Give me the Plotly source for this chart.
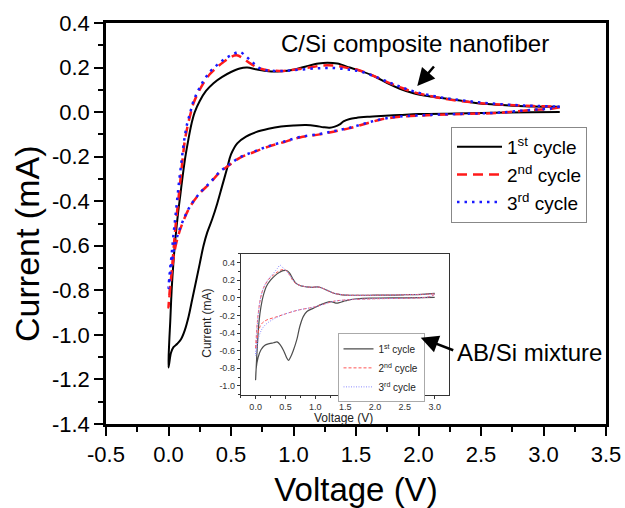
import plotly.graph_objects as go

# ---------------- main plot data (C/Si composite nanofiber) ----------------
c1_v = [3.13, 2.9, 2.6, 2.3, 2.0, 1.85, 1.7, 1.59, 1.5, 1.45, 1.4, 1.37, 1.33, 1.29, 1.24, 1.18,
        1.1, 1.0, 0.9, 0.8, 0.7, 0.62, 0.55, 0.5, 0.47, 0.43, 0.39, 0.35, 0.31, 0.28, 0.25, 0.22,
        0.19, 0.16, 0.13, 0.1, 0.07, 0.04, 0.02, 0.0,
        0.006, 0.014, 0.025, 0.04, 0.055, 0.075, 0.095, 0.115, 0.135, 0.16, 0.185, 0.21, 0.25,
        0.3, 0.36, 0.43, 0.5, 0.57, 0.63, 0.7, 0.8, 0.9, 1.0, 1.1, 1.2, 1.27, 1.35, 1.45, 1.53,
        1.65, 1.75, 1.85, 1.96, 2.1, 2.25, 2.4, 2.55, 2.75, 2.92, 3.13]
c1_i = [0.0, -0.001, -0.003, -0.006, -0.009, -0.013, -0.017, -0.021, -0.026, -0.031, -0.042,
        -0.055, -0.065, -0.07, -0.068, -0.062, -0.058, -0.06, -0.065, -0.075, -0.09, -0.11,
        -0.14, -0.19, -0.25, -0.33, -0.41, -0.48, -0.54, -0.6, -0.68, -0.76, -0.84, -0.92,
        -0.98, -1.02, -1.04, -1.055, -1.08, -1.146,
        -1.03, -0.94, -0.8, -0.67, -0.57, -0.46, -0.37, -0.28, -0.2, -0.12, -0.05, 0.0, 0.05,
        0.095, 0.13, 0.158, 0.18, 0.196, 0.2, 0.192, 0.183, 0.183, 0.19, 0.205, 0.218, 0.222,
        0.218, 0.2, 0.186, 0.16, 0.13, 0.105, 0.085, 0.07, 0.058, 0.046, 0.036, 0.029, 0.025,
        0.024]

c2_v = [3.13, 3.05, 2.92, 2.65, 2.4, 2.12, 1.85, 1.7, 1.59, 1.45, 1.32, 1.21, 1.05, 0.92, 0.8,
        0.68, 0.57, 0.48, 0.41, 0.33, 0.25, 0.17, 0.118, 0.08, 0.05, 0.03, 0.015, 0.0,
        0.01, 0.025, 0.04, 0.055, 0.07, 0.085, 0.1, 0.115, 0.13, 0.15, 0.175, 0.2, 0.24, 0.28,
        0.33, 0.385, 0.44, 0.5, 0.545, 0.6, 0.65, 0.72, 0.78, 0.85, 0.92, 1.0, 1.1, 1.2, 1.27,
        1.35, 1.45, 1.53, 1.65, 1.75, 1.85, 1.96, 2.12, 2.25, 2.39, 2.52, 2.65, 2.8, 2.92, 3.11]
c2_i = [0.022, 0.014, 0.01, -0.003, -0.008, -0.013, -0.021, -0.033, -0.05, -0.072, -0.088,
        -0.1, -0.114, -0.135, -0.155, -0.18, -0.205, -0.24, -0.27, -0.32, -0.365, -0.427,
        -0.49, -0.55, -0.62, -0.7, -0.78, -0.877,
        -0.8, -0.72, -0.62, -0.52, -0.44, -0.36, -0.28, -0.2, -0.13, -0.07, -0.01, 0.04, 0.09,
        0.13, 0.17, 0.2, 0.225, 0.248, 0.255, 0.24, 0.22, 0.198, 0.189, 0.186, 0.185, 0.19,
        0.198, 0.207, 0.21, 0.207, 0.196, 0.187, 0.16, 0.135, 0.112, 0.09, 0.069, 0.056,
        0.046, 0.039, 0.034, 0.03, 0.027, 0.024]

c3_v = [3.13, 3.05, 2.92, 2.65, 2.4, 2.12, 1.85, 1.7, 1.59, 1.45, 1.32, 1.21, 1.05, 0.92, 0.8,
        0.68, 0.57, 0.48, 0.41, 0.33, 0.25, 0.17, 0.118, 0.08, 0.05, 0.03, 0.015, 0.0,
        0.01, 0.025, 0.04, 0.055, 0.07, 0.085, 0.1, 0.115, 0.13, 0.15, 0.175, 0.2, 0.24, 0.28,
        0.33, 0.385, 0.44, 0.5, 0.57, 0.62, 0.67, 0.72, 0.78, 0.85, 0.92, 1.0, 1.1, 1.2, 1.27,
        1.35, 1.45, 1.53, 1.65, 1.75, 1.85, 1.96, 2.12, 2.25, 2.39, 2.52, 2.65, 2.8, 2.92, 3.11]
c3_i = [0.025, 0.016, 0.011, -0.002, -0.007, -0.012, -0.02, -0.032, -0.048, -0.07, -0.086,
        -0.098, -0.112, -0.133, -0.153, -0.178, -0.203, -0.238, -0.268, -0.318, -0.363, -0.425,
        -0.485, -0.54, -0.6, -0.66, -0.72, -0.79,
        -0.72, -0.64, -0.55, -0.47, -0.39, -0.31, -0.24, -0.17, -0.11, -0.05, 0.0, 0.05, 0.1,
        0.14, 0.18, 0.21, 0.235, 0.255, 0.27, 0.25, 0.225, 0.2, 0.188, 0.185, 0.185, 0.188,
        0.193, 0.197, 0.198, 0.197, 0.19, 0.183, 0.16, 0.137, 0.115, 0.093, 0.072, 0.06, 0.05,
        0.042, 0.036, 0.031, 0.028, 0.025]

# ---------------- inset data (AB/Si mixture) ----------------
i1_v = [3.0, 2.5, 2.0, 1.7, 1.55, 1.47, 1.4, 1.36, 1.3, 1.25, 1.16, 1.08, 0.97, 0.86, 0.8, 0.74,
        0.69, 0.63, 0.58, 0.55, 0.52, 0.47, 0.41, 0.36, 0.3, 0.23, 0.15, 0.09, 0.04, 0.01, 0.0,
        0.02, 0.04, 0.06, 0.09, 0.13, 0.18, 0.25, 0.32, 0.4, 0.46, 0.52, 0.57, 0.62, 0.67, 0.74,
        0.85, 0.95, 1.03, 1.1, 1.2, 1.3, 1.4, 1.5, 2.0, 2.5, 2.8, 3.0]
i1_i = [0.005, 0.0, -0.003, -0.01, -0.025, -0.04, -0.055, -0.06, -0.05, -0.042, -0.06, -0.08,
        -0.117, -0.155, -0.21, -0.325, -0.475, -0.6, -0.68, -0.71, -0.68, -0.6, -0.53, -0.5,
        -0.51, -0.52, -0.54, -0.59, -0.68, -0.8, -0.93,
        -0.65, -0.42, -0.25, -0.1, 0.03, 0.13, 0.2, 0.25, 0.29, 0.31, 0.31, 0.28, 0.22, 0.17,
        0.14, 0.125, 0.12, 0.125, 0.115, 0.085, 0.055, 0.04, 0.032, 0.03, 0.035, 0.04, 0.05]

i2_v = [3.0, 2.95, 2.85, 2.5, 2.0, 1.6, 1.4, 1.3, 1.15, 1.02, 0.9, 0.74, 0.6, 0.465, 0.33, 0.19,
        0.12, 0.075, 0.04, 0.015, 0.0,
        0.02, 0.04, 0.07, 0.11, 0.16, 0.22, 0.3, 0.38, 0.44, 0.5, 0.56, 0.62, 0.68, 0.75, 0.85,
        0.95, 1.03, 1.1, 1.2, 1.3, 1.4, 1.5, 2.0, 2.5, 2.8, 3.0]
i2_i = [0.04, 0.02, 0.005, -0.005, -0.01, -0.02, -0.03, -0.04, -0.07, -0.098, -0.115, -0.135,
        -0.16, -0.19, -0.22, -0.25, -0.28, -0.325, -0.4, -0.5, -0.58,
        -0.35, -0.2, -0.05, 0.07, 0.15, 0.21, 0.26, 0.3, 0.32, 0.315, 0.27, 0.2, 0.16, 0.14,
        0.125, 0.12, 0.125, 0.115, 0.085, 0.055, 0.04, 0.032, 0.03, 0.035, 0.04, 0.045]

i3_v = [3.0, 2.95, 2.85, 2.5, 2.0, 1.6, 1.4, 1.3, 1.15, 1.02, 0.9, 0.74, 0.6, 0.465, 0.33, 0.19,
        0.12, 0.075, 0.04, 0.02, 0.0,
        0.02, 0.05, 0.09, 0.15, 0.22, 0.3, 0.36, 0.41, 0.46, 0.52, 0.58, 0.64, 0.7, 0.77, 0.85,
        0.95, 1.03, 1.1, 1.2, 1.3, 1.4, 1.5, 2.0, 2.5, 2.8, 3.0]
i3_i = [0.04, 0.02, 0.005, -0.005, -0.01, -0.02, -0.03, -0.04, -0.07, -0.098, -0.115, -0.135,
        -0.16, -0.19, -0.23, -0.29, -0.34, -0.4, -0.48, -0.57, -0.66,
        -0.4, -0.15, 0.02, 0.14, 0.22, 0.28, 0.33, 0.37, 0.34, 0.3, 0.25, 0.19, 0.155, 0.138,
        0.125, 0.12, 0.125, 0.115, 0.085, 0.055, 0.04, 0.032, 0.03, 0.035, 0.04, 0.045]

# ---------------- labels / ticks ----------------
cycle_names = ["1<sup>st</sup> cycle", "2<sup>nd</sup> cycle", "3<sup>rd</sup> cycle"]
x_tickvals = [-0.5, 0.0, 0.5, 1.0, 1.5, 2.0, 2.5, 3.0, 3.5]
x_ticktext = ["-0.5", "0.0", "0.5", "1.0", "1.5", "2.0", "2.5", "3.0", "3.5"]
y_tickvals = [-1.4, -1.2, -1.0, -0.8, -0.6, -0.4, -0.2, 0.0, 0.2, 0.4]
y_ticktext = ["-1.4", "-1.2", "-1.0", "-0.8", "-0.6", "-0.4", "-0.2", "0.0", "0.2", "0.4"]
ix_tickvals = [0.0, 0.5, 1.0, 1.5, 2.0, 2.5, 3.0]
ix_ticktext = ["0.0", "0.5", "1.0", "1.5", "2.0", "2.5", "3.0"]
iy_tickvals = [-1.0, -0.8, -0.6, -0.4, -0.2, 0.0, 0.2, 0.4]
iy_ticktext = ["-1.0", "-0.8", "-0.6", "-0.4", "-0.2", "0.0", "0.2", "0.4"]

FONT = "Arial, 'Liberation Sans', Helvetica, sans-serif"

fig = go.Figure()

main_styles = [
    dict(color="black", width=2, dash="solid"),
    dict(color="#ff1a1a", width=2.5, dash="10px,6px"),
    dict(color="#1a1aff", width=2.5, dash="2.5px,5px"),
]
for (xv, yv), name, st in zip([(c1_v, c1_i), (c2_v, c2_i), (c3_v, c3_i)], cycle_names, main_styles):
    fig.add_trace(go.Scatter(x=xv, y=yv, mode="lines", name=name, line=st,
                             line_shape="spline", xaxis="x", yaxis="y", legend="legend"))

inset_styles = [
    dict(color="#4d4d4d", width=1.2, dash="solid"),
    dict(color="#ff5555", width=1, dash="3px,2px"),
    dict(color="#8c8cff", width=1, dash="1px,1.5px"),
]
for (xv, yv), name, st in zip([(i1_v, i1_i), (i2_v, i2_i), (i3_v, i3_i)], cycle_names, inset_styles):
    fig.add_trace(go.Scatter(x=xv, y=yv, mode="lines", name=name, line=st,
                             line_shape="spline", xaxis="x2", yaxis="y2", legend="legend2"))

axis_common = dict(showgrid=False, zeroline=False, showline=True, mirror=True,
                   linecolor="black", ticks="outside", tickcolor="black", automargin=False)

fig.update_layout(
    width=625, height=508,
    margin=dict(l=106, r=19, t=23, b=84, autoexpand=False),
    paper_bgcolor="white", plot_bgcolor="white",
    font=dict(family=FONT, color="black"),
    xaxis=dict(**axis_common, range=[-0.5, 3.5], domain=[0, 1], anchor="y",
               tickmode="array", tickvals=x_tickvals, ticktext=x_ticktext,
               linewidth=2.5, ticklen=9, tickwidth=2, tickfont=dict(size=22),
               minor=dict(dtick=0.25, tick0=0, ticklen=5, tickwidth=2, ticks="outside",
                          tickcolor="black", showgrid=False),
               title=dict(text="Voltage (V)", font=dict(size=33), standoff=17)),
    yaxis=dict(**axis_common, range=[-1.4, 0.4], domain=[0, 1], anchor="x",
               tickmode="array", tickvals=y_tickvals, ticktext=y_ticktext,
               linewidth=2.5, ticklen=9, tickwidth=2, tickfont=dict(size=22),
               minor=dict(dtick=0.1, tick0=0, ticklen=5, tickwidth=2, ticks="outside",
                          tickcolor="black", showgrid=False)),
    xaxis2=dict(showgrid=False, zeroline=False, showline=True, mirror=True, automargin=False,
                linecolor="#333333", linewidth=1, ticks="outside", tickcolor="#333333",
                range=[-0.25, 3.24], domain=[0.2694, 0.686], anchor="y2",
                tickmode="array", tickvals=ix_tickvals, ticktext=ix_ticktext,
                ticklen=3, tickwidth=1, tickfont=dict(size=9, color="#333333"),
                minor=dict(dtick=0.25, tick0=0, ticklen=2, tickwidth=1, ticks="outside",
                           tickcolor="#333333", showgrid=False)),
    yaxis2=dict(showgrid=False, zeroline=False, showline=True, mirror=True, automargin=False,
                linecolor="#333333", linewidth=1, ticks="outside", tickcolor="#333333",
                range=[-1.1, 0.5], domain=[0.073, 0.4244], anchor="x2",
                tickmode="array", tickvals=iy_tickvals, ticktext=iy_ticktext,
                ticklen=3, tickwidth=1, tickfont=dict(size=9, color="#333333"),
                minor=dict(dtick=0.1, tick0=0, ticklen=2, tickwidth=1, ticks="outside",
                           tickcolor="#333333", showgrid=False)),
    legend=dict(x=0.69, y=0.741, xanchor="left", yanchor="top", xref="paper", yref="paper",
                bordercolor="#888888", borderwidth=1, bgcolor="white",
                font=dict(size=19), itemwidth=45, tracegroupgap=0),
    legend2=dict(x=0.463, y=0.226, xanchor="left", yanchor="top", xref="paper", yref="paper",
                 bordercolor="#aaaaaa", borderwidth=1, bgcolor="white",
                 font=dict(size=10, color="#222222"), itemwidth=30, tracegroupgap=0),
    showlegend=True,
)

# main y title (placed as in the reference, slightly below the axis centre)
fig.add_annotation(x=-0.158, y=0.449, xref="paper", yref="paper", text="Current (mA)",
                   showarrow=False, textangle=-90, font=dict(size=34),
                   xanchor="center", yanchor="middle")

# inset axis titles
fig.add_annotation(x=0.474, y=0.016, xref="paper", yref="paper", text="Voltage (V)",
                   showarrow=False, font=dict(size=12, color="#222222"),
                   xanchor="center", yanchor="middle")
fig.add_annotation(x=0.202, y=0.25, xref="paper", yref="paper", text="Current (mA)",
                   showarrow=False, textangle=-90, font=dict(size=12, color="#222222"),
                   xanchor="center", yanchor="middle")

fig.add_annotation(x=1.972, y=0.31, xref="x", yref="y", text="C/Si composite nanofiber",
                   showarrow=False, font=dict(size=24), xanchor="center", yanchor="middle")
fig.add_annotation(x=1.99, y=0.117, xref="x", yref="y", text="", showarrow=True,
                   ax=18, ay=-21, arrowhead=2, arrowsize=1.4, arrowwidth=2.5,
                   arrowcolor="black", standoff=0)
fig.add_annotation(x=2.89, y=-1.08, xref="x", yref="y", text="AB/Si mixture",
                   showarrow=False, font=dict(size=24), xanchor="center", yanchor="middle")
fig.add_annotation(x=2.018, y=-1.013, xref="x", yref="y", text="", showarrow=True,
                   ax=34, ay=13, arrowhead=2, arrowsize=1.4, arrowwidth=2.5,
                   arrowcolor="black", standoff=0)

fig.write_html("out.html")
